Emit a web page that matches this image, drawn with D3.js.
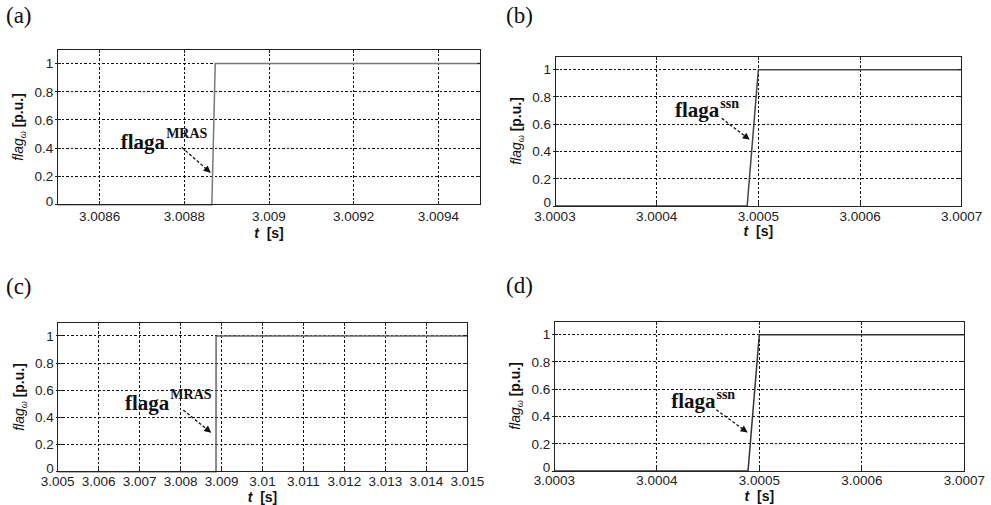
<!DOCTYPE html>
<html>
<head>
<meta charset="utf-8">
<script src="https://cdn.jsdelivr.net/npm/d3@7"></script>
<style>
  body { margin: 0; background: #fff; }
  svg { display: block; }
  .tick-label { font-family: Arial, "Liberation Sans", sans-serif; font-size: 13.5px; fill: #222; }
  .axis-label { font-family: Arial, "Liberation Sans", sans-serif; font-size: 14px; fill: #111; }
  .panel-tag { font-family: "Times New Roman", "Liberation Serif", serif; font-size: 23px; fill: #111; }
  .anno { font-family: "Times New Roman", "Liberation Serif", serif; font-weight: bold; fill: #111; }
</style>
</head>
<body>
<div id="chart"></div>
<script>
// panel tags and tick values
const panelTags = ["(a)", "(b)", "(c)", "(d)"];
const yTicks = [0, 0.2, 0.4, 0.6, 0.8, 1];
const yTickLabels = ["0", "0.2", "0.4", "0.6", "0.8", "1"];

const xDomainA = [3.0085, 3.0095];
const xTicksA = [3.0086, 3.0088, 3.009, 3.0092, 3.0094];
const xTickLabelsA = ["3.0086", "3.0088", "3.009", "3.0092", "3.0094"];

const xDomainB = [3.0003, 3.0007];
const xTicksB = [3.0003, 3.0004, 3.0005, 3.0006, 3.0007];
const xTickLabelsB = ["3.0003", "3.0004", "3.0005", "3.0006", "3.0007"];

const xDomainC = [3.005, 3.015];
const xTicksC = [3.005, 3.006, 3.007, 3.008, 3.009, 3.010, 3.011, 3.012, 3.013, 3.014, 3.015];
const xTickLabelsC = ["3.005", "3.006", "3.007", "3.008", "3.009", "3.01", "3.011", "3.012", "3.013", "3.014", "3.015"];

const xDomainD = [3.0003, 3.0007];
const xTicksD = [3.0003, 3.0004, 3.0005, 3.0006, 3.0007];
const xTickLabelsD = ["3.0003", "3.0004", "3.0005", "3.0006", "3.0007"];

// flag signals (time [s], flag [p.u.])
const tA = [3.0085, 3.008865, 3.008873, 3.0095];
const flagA = [0, 0, 1, 1];
const tB = [3.0003, 3.000489, 3.0005, 3.0007];
const flagB = [0, 0, 1, 1];
const tC = [3.005, 3.008865, 3.008867, 3.015];
const flagC = [0, 0, 1, 1];
const tD = [3.0003, 3.000489, 3.0005, 3.0007];
const flagD = [0, 0, 1, 1];

// annotations: superscript, text anchor, arrow start, arrow end (data coords)
const annoSup = ["MRAS", "ssn", "MRAS", "ssn"];
const annoText = [[3.00865, 0.394], [3.000418, 0.652], [3.006643, 0.454], [3.000414, 0.464]];
const arrowFrom = [[3.008794, 0.406], [3.000464, 0.643], [3.008066, 0.454], [3.000458, 0.449]];
const arrowTo = [[3.008861, 0.229], [3.000491, 0.489], [3.008735, 0.29], [3.000488, 0.286]];

const W = 991, H = 505;
const svg = d3.select("#chart").append("svg").attr("width", W).attr("height", H);

svg.append("defs").append("marker")
    .attr("id", "arrowhead")
    .attr("viewBox", "0 0 10 10")
    .attr("refX", 9).attr("refY", 5)
    .attr("markerWidth", 9).attr("markerHeight", 7)
    .attr("markerUnits", "userSpaceOnUse")
    .attr("orient", "auto")
    .append("path").attr("d", "M0,0 L10,5 L0,10 Z").attr("fill", "#111");

// pixel boxes of the four axes
const panels = [
  {tag: [6, 23], box: [57.3, 480.7, 49.3, 204.7], dom: xDomainA, ticks: xTicksA, labels: xTickLabelsA, t: tA, f: flagA, pad: 16, titlePad: 33, lineColor: "#777"},
  {tag: [506, 23], box: [555, 961.7, 56, 206], dom: xDomainB, ticks: xTicksB, labels: xTickLabelsB, t: tB, f: flagB, pad: 14.5, titlePad: 30, lineColor: "#444"},
  {tag: [6, 294], box: [57.7, 467.3, 322.3, 471.7], dom: xDomainC, ticks: xTicksC, labels: xTickLabelsC, t: tC, f: flagC, pad: 14, titlePad: 30, lineColor: "#666"},
  {tag: [506, 293], box: [554.3, 964.3, 321, 471], dom: xDomainD, ticks: xTicksD, labels: xTickLabelsD, t: tD, f: flagD, pad: 14, titlePad: 30, lineColor: "#333"}
];

panels.forEach((p, i) => drawPanel(p, i));

function drawPanel(p, i) {
  var [x0, x1, y0, y1] = p.box;
  var x = d3.scaleLinear().domain(p.dom).range([x0, x1]);
  var y = d3.scaleLinear().domain([0, 1.1]).range([y1, y0]);
  var g = svg.append("g");

  svg.append("text").attr("class", "panel-tag")
      .attr("x", p.tag[0]).attr("y", p.tag[1]).text(panelTags[i]);

  // dotted grid
  var grid = g.append("g").attr("stroke", "#111").attr("stroke-width", 1)
      .attr("stroke-dasharray", "2.5,2").attr("shape-rendering", "crispEdges");
  grid.selectAll(".gx").data(p.ticks.filter(v => x(v) > x0 + 1 && x(v) < x1 - 1)).enter()
      .append("line")
      .attr("x1", d => x(d)).attr("x2", d => x(d))
      .attr("y1", y0).attr("y2", y1);
  grid.selectAll(".gy").data(yTicks.filter(v => v > 0)).enter()
      .append("line")
      .attr("x1", x0).attr("x2", x1)
      .attr("y1", d => y(d)).attr("y2", d => y(d));

  // signal
  var line = d3.line().x(d => x(d[0])).y(d => y(d[1]));
  g.append("path")
      .datum(p.t.map((v, k) => [v, p.f[k]]))
      .attr("fill", "none")
      .attr("stroke", p.lineColor)
      .attr("stroke-width", 1.5)
      .attr("d", line);

  // frame
  g.append("rect")
      .attr("x", x0).attr("y", y0).attr("width", x1 - x0).attr("height", y1 - y0)
      .attr("fill", "none").attr("stroke", "#222").attr("stroke-width", 1)
      .attr("shape-rendering", "crispEdges");

  // inward ticks on all sides
  var tk = g.append("g").attr("stroke", "#222").attr("stroke-width", 1).attr("shape-rendering", "crispEdges");
  p.ticks.forEach(v => {
    tk.append("line").attr("x1", x(v)).attr("x2", x(v)).attr("y1", y1).attr("y2", y1 - 4);
    tk.append("line").attr("x1", x(v)).attr("x2", x(v)).attr("y1", y0).attr("y2", y0 + 4);
  });
  yTicks.forEach(v => {
    tk.append("line").attr("x1", x0 - 2).attr("x2", x0 + 4).attr("y1", y(v)).attr("y2", y(v));
    tk.append("line").attr("x1", x1).attr("x2", x1 - 4).attr("y1", y(v)).attr("y2", y(v));
  });

  // tick labels
  g.selectAll(".xl").data(p.ticks).enter().append("text")
      .attr("class", "tick-label")
      .attr("x", d => x(d)).attr("y", y1 + p.pad)
      .attr("text-anchor", "middle")
      .text((d, k) => p.labels[k]);
  g.selectAll(".yl").data(yTicks).enter().append("text")
      .attr("class", "tick-label")
      .attr("x", x0 - 4).attr("y", d => y(d) - (d === 0 ? 4 : 0)).attr("dy", "0.36em")
      .attr("text-anchor", "end")
      .text((d, k) => yTickLabels[k]);

  // axis titles
  var xl = g.append("text").attr("class", "axis-label")
      .attr("x", (x0 + x1) / 2).attr("y", y1 + p.titlePad)
      .attr("text-anchor", "middle").attr("font-weight", "bold");
  xl.append("tspan").attr("font-style", "italic").text("t");
  xl.append("tspan").attr("xml:space", "preserve").text("  [s]");

  var yl = g.append("text").attr("class", "axis-label")
      .attr("transform", "translate(" + (x0 - 34) + "," + ((y0 + y1) / 2) + ") rotate(-90)")
      .attr("text-anchor", "middle");
  yl.append("tspan").attr("font-style", "italic").text("flag");
  yl.append("tspan").attr("font-style", "italic").attr("font-size", "9px").attr("dy", 3).text("ω");
  yl.append("tspan").attr("dy", -3).attr("font-weight", "bold").text(" [p.u.]");

  // annotation
  var at = g.append("text").attr("class", "anno")
      .attr("x", x(annoText[i][0])).attr("y", y(annoText[i][1]));
  at.append("tspan").attr("font-size", "21px").text("flaga");
  at.append("tspan").attr("font-size", "14px").attr("dx", 1)
      .attr("dy", annoSup[i] === "MRAS" ? -11 : -9).text(annoSup[i]);

  g.append("line")
      .attr("x1", x(arrowFrom[i][0])).attr("y1", y(arrowFrom[i][1]))
      .attr("x2", x(arrowTo[i][0])).attr("y2", y(arrowTo[i][1]))
      .attr("stroke", "#111").attr("stroke-width", 1.3)
      .attr("stroke-dasharray", "3,2")
      .attr("marker-end", "url(#arrowhead)");
}
</script>
</body>
</html>
